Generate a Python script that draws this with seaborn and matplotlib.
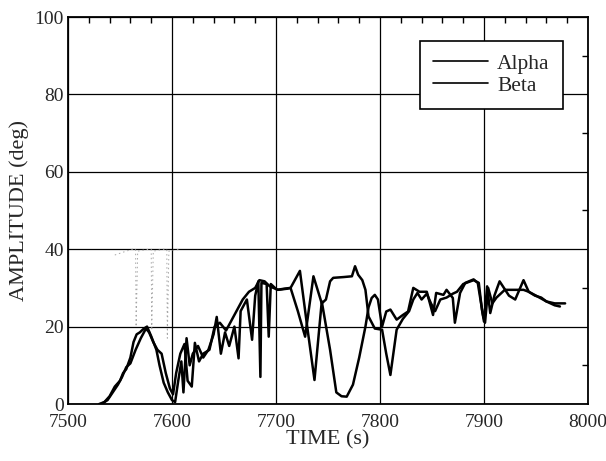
import matplotlib
matplotlib.use("Agg")
import matplotlib.pyplot as plt
from matplotlib.ticker import MultipleLocator
import pandas as pd
import seaborn as sns

# values
alpha_t = [7530, 7535, 7540, 7545, 7550, 7553, 7556, 7560, 7563, 7566, 7569, 7573, 7576,
           7580, 7585, 7588, 7592, 7596, 7600, 7603, 7606, 7609, 7611, 7614, 7617, 7620,
           7625, 7630, 7635, 7640, 7643, 7647, 7651, 7655, 7660, 7664, 7666, 7672, 7677,
           7680, 7683, 7685, 7686, 7691, 7693, 7695, 7701, 7708, 7714, 7723, 7730, 7737,
           7744, 7752, 7758, 7763, 7768, 7774, 7780, 7786, 7789, 7792, 7795, 7798, 7802,
           7806, 7810, 7816, 7822, 7827, 7832, 7838, 7845, 7848, 7851, 7854, 7861, 7864,
           7870, 7872, 7877, 7882, 7890, 7894, 7899, 7901, 7904, 7908, 7912, 7920, 7930,
           7938, 7943, 7949, 7955, 7960, 7968, 7973]
alpha_a = [0, 0.5, 2, 4.5, 6, 8, 9, 12, 16, 18, 18.5, 19.5, 20,
           17.5, 14, 10, 5.5, 3, 1, 0.5, 6, 11, 3, 17, 10, 13,
           15, 12, 14, 18, 22.5, 13, 18.5, 15, 20, 11.8, 24, 27, 16.6,
           28, 31.7, 7, 31.3, 31, 17.4, 31, 29.5, 29.8, 30, 34.4, 20, 6.2,
           26.5, 14, 3, 2, 1.9, 5, 12, 20, 25, 27.4, 28.2, 27, 20,
           23.9, 24.4, 21.8, 23, 23.9, 30, 29, 29, 26, 23, 28.7, 28.2, 29.5,
           27.4, 21, 28.7, 31.3, 32.2, 31.3, 23, 21, 30, 26, 27.5, 29.5, 29.5,
           29.5, 29, 28, 27.5, 26.5, 25.5, 25.2]

beta_t = [7532, 7538, 7543, 7548, 7552, 7556, 7560, 7565, 7570, 7575, 7578, 7582, 7586,
          7590, 7594, 7598, 7601, 7604, 7608, 7612, 7615, 7619, 7622, 7626, 7630, 7636,
          7641, 7646, 7652, 7658, 7664, 7668, 7674, 7680, 7684, 7689, 7694, 7702, 7711,
          7714, 7721, 7728, 7736, 7744, 7748, 7752, 7755, 7765, 7773, 7776, 7779, 7783,
          7786, 7789, 7795, 7802, 7806, 7810, 7816, 7822, 7828, 7832, 7836, 7840, 7845,
          7849, 7853, 7858, 7864, 7870, 7874, 7880, 7890, 7895, 7898, 7900, 7903, 7906,
          7910, 7915, 7924, 7930, 7938, 7943, 7950, 7960, 7968, 7978]
beta_a = [0, 1, 3, 5, 7, 9.5, 10.5, 14, 17, 19.5, 18.5, 16, 14,
          13, 8, 4, 2.5, 8, 13, 15.5, 6, 4.5, 15.8, 11, 13, 14,
          20, 21, 19, 22, 25, 27, 29, 30, 32, 31.7, 30.4, 29.5, 29.8,
          30, 24, 17.4, 33, 26, 27, 31.7, 32.6, 32.8, 33, 35.6, 33.4, 32,
          29.5, 22.6, 19.5, 19.2, 13, 7.5, 19.2, 22, 24, 27, 28.7, 27, 28.5,
          26, 24, 27, 27.5, 28.5, 29, 31, 32, 31.3, 24.4, 21.3, 30.4, 23.5,
          28, 31.7, 28, 27, 32, 29, 28, 26.5, 26, 26]

# faint dotted trace left by the scan (not in the legend)
ghost_t = [7545, 7556, 7562, 7565, 7565.5, 7567, 7578, 7580, 7580.5, 7582,
           7592, 7595, 7595.5, 7597, 7608]
ghost_a = [38.5, 39.5, 40, 40, 20, 39.5, 40, 40, 19, 39.5, 40, 40, 17, 39.5, 40]

series_names = ["Alpha", "Beta"]

df = pd.concat([
    pd.DataFrame({"time": alpha_t, "amp": alpha_a, "series": "Alpha"}),
    pd.DataFrame({"time": beta_t, "amp": beta_a, "series": "Beta"}),
])
ghost = pd.DataFrame({"time": ghost_t, "amp": ghost_a})

sns.set_style("white")
plt.rcParams["font.family"] = ["Liberation Serif", "DejaVu Serif"]

fig = plt.figure(figsize=(6.06, 4.61), dpi=100)
ax = fig.add_axes([68 / 606, 1 - 404 / 461, 520 / 606, 387 / 461])

sns.lineplot(data=ghost, x="time", y="amp", color="0.65", linewidth=0.7,
             linestyle=(0, (1.5, 3)), estimator=None, sort=False, ax=ax)
sns.lineplot(data=df, x="time", y="amp", hue="series", hue_order=series_names,
             palette={"Alpha": "black", "Beta": "black"}, estimator=None,
             sort=False, linewidth=1.8, ax=ax)

ax.set_xlim(7500, 8000)
ax.set_ylim(0, 100)
ax.set_xticks(range(7500, 8001, 100))
ax.set_yticks(range(0, 101, 20))
ax.xaxis.set_minor_locator(MultipleLocator(20))
ax.yaxis.set_minor_locator(MultipleLocator(10))
ax.tick_params(which="both", direction="in", top=True, right=True,
               color="black", width=1.0, labelsize=14)
ax.tick_params(which="major", length=0)
ax.tick_params(which="minor", length=4)
ax.tick_params(axis="x", pad=7)
ax.tick_params(axis="y", pad=3)
ax.grid(True, which="major", color="black", linewidth=0.9)
for sp in ax.spines.values():
    sp.set_color("black")
    sp.set_linewidth(1.3)

ax.set_xlabel("TIME (s)", fontsize=16, labelpad=0)
ax.set_ylabel("AMPLITUDE (deg)", fontsize=16, labelpad=4)

leg = ax.legend(loc="upper right", bbox_to_anchor=(0.951, 0.939), fontsize=15.5,
                frameon=True, fancybox=False, framealpha=1, edgecolor="black",
                handlelength=2.6, borderpad=0.6, labelspacing=0.1,
                handletextpad=0.4, borderaxespad=0)
leg.get_frame().set_linewidth(1.2)
for h in leg.get_lines():
    h.set_linewidth(1.2)

fig.savefig("out.png", dpi=100)
